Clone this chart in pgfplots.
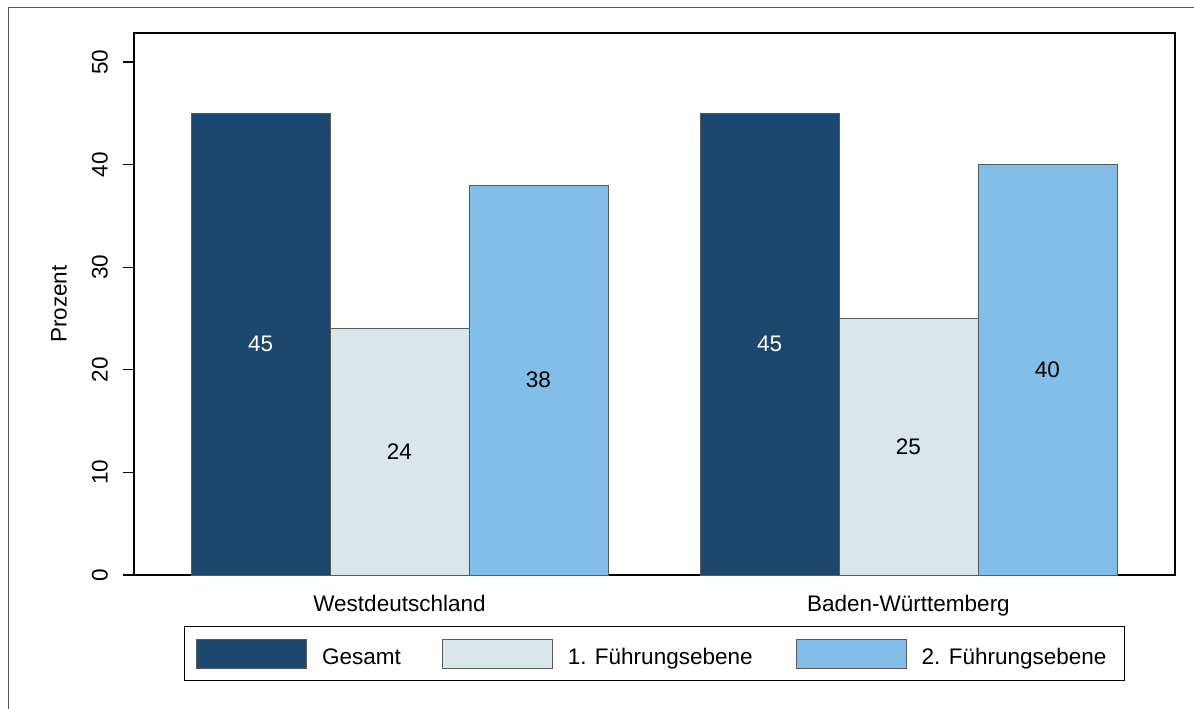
\documentclass[border=0pt]{standalone}
\usepackage{pgfplots}
\pgfplotsset{compat=1.18}
\usepackage{fontspec}
\setmainfont{Liberation Sans}
\newcommand\fsz{\fontsize{22.5bp}{27bp}\selectfont}
\definecolor{cA}{RGB}{28,71,111}
\definecolor{cB}{RGB}{217,230,236}
\definecolor{cC}{RGB}{130,190,232}
\definecolor{edge}{RGB}{90,90,90}
\pgfplotsset{
  myleg/.style={legend image code/.code={\draw[##1] (0bp,-4bp) rectangle (110bp,25bp);}},
  midlabel/.style 2 args={nodes near coords, visualization depends on=y \as \rawy,
    every node near coord/.append style={shift={(axis direction cs:#2,-\rawy/2)}, anchor=center, font=\fsz, text=#1, inner sep=0pt}},
}
\begin{document}
\begin{tikzpicture}
\useasboundingbox (0,0) rectangle (1194bp,-709bp);
\fill[white] (0,0) rectangle (1194bp,-709bp);
\draw[black!65, line width=1bp] (8bp,-712bp) -- (8bp,-7bp) -- (1197bp,-7bp);
\begin{axis}[
  at={(134bp,-575bp)}, anchor=south west,
  scale only axis, width=1041bp, height=542bp,
  xmin=-0.5216, xmax=1.5236, ymin=0, ymax=52.83,
  axis line style={line width=1.3bp, black},
  /pgf/number format/assume math mode=true,
  ytick={0,10,20,30,40,50}, ytick pos=left, tick align=outside, major tick length=11bp,
  tick style={line width=1.3bp, black},
  xtick={0,1}, xticklabels={Westdeutschland,Baden-Württemberg},
  xtick style={draw=none},
  yticklabel shift=15bp,
  yticklabel style={rotate=90, anchor=south, inner sep=0pt, font=\fsz},
  xticklabel style={anchor=base, inner sep=0pt, font=\fsz, yshift=-25bp},
  every axis y label/.style={at={(axis description cs:-0.0644,0.5)}, rotate=90, anchor=south, inner sep=0pt, font=\fsz},
  ylabel={Prozent},
  legend columns=3,
  legend style={at={(axis description cs:0.5,-0.0941)}, anchor=north, draw=black, line width=1.3bp,
    inner xsep=12bp, inner ysep=12bp, font=\fsz,
    nodes={inner sep=0pt},
    cells={anchor=base west},
    /tikz/every odd column/.append style={column sep=15bp},
    /tikz/every even column/.append style={column sep=0bp}},
]
\addplot[ybar, bar width=0.273, bar shift=-0.273, fill=cA, draw=edge, line width=0.8bp, myleg, midlabel={white}{-0.273}]
  coordinates {(0,45) (1,45)};
\addlegendentry{\makebox[120bp][l]{Gesamt}}
\addplot[ybar, bar width=0.273, bar shift=0, fill=cB, draw=edge, line width=0.8bp, myleg, midlabel={black}{0}]
  coordinates {(0,24) (1,25)};
\addlegendentry{\makebox[228bp][l]{1. Führungsebene}}
\addplot[ybar, bar width=0.273, bar shift=0.273, fill=cC, draw=edge, line width=0.8bp, myleg, midlabel={black}{0.273}]
  coordinates {(0,38) (1,40)};
\addlegendentry{\makebox[191bp][l]{2. Führungsebene}}
\end{axis}
\end{tikzpicture}
\end{document}
